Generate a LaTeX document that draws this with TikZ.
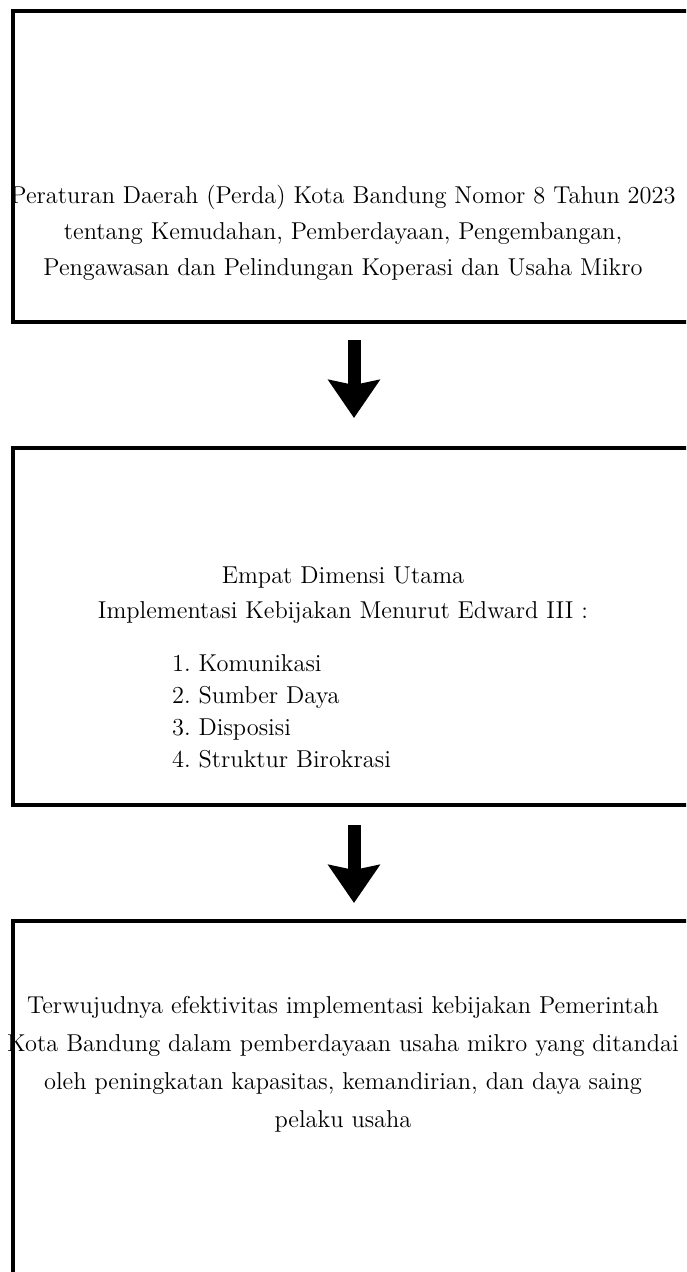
\documentclass[tikz,border=0pt]{standalone}
\usepackage{tikz}
\usepackage{amsmath}
\usetikzlibrary{arrows.meta}

\begin{document}
\begin{tikzpicture}[x=0.5pt,y=-0.5pt,
    kotak/.style={draw,line width=2pt,minimum width=341pt,inner sep=0pt},
    teks/.style={align=center,font=\fontsize{12.2}{18}\selectfont},
    panah/.style={line width=6.5pt,-{Stealth[length=19pt,width=25.5pt,inset=2.5pt]}}]
    %initialisation
    \clip (0,0) rectangle (686,1272);
    %definitions
    \node[kotak,minimum height=155.5pt] (perda) at (354,166.5) {};
    \node[kotak,minimum height=178.5pt] (dimensi) at (354,626.5) {};
    \node[kotak,minimum height=189.5pt] (hasil) at (354,1110.5) {};
    %label
    \node[teks] (tperda) at (343,233) {Peraturan Daerah (Perda) Kota Bandung Nomor 8 Tahun 2023\\
        tentang Kemudahan, Pemberdayaan, Pengembangan,\\
        Pengawasan dan Pelindungan Koperasi dan Usaha Mikro};
    \node[teks,font=\fontsize{12.2}{17.5}\selectfont] (tdimensi) at (343,595.5) {Empat Dimensi Utama\\
        Implementasi Kebijakan Menurut Edward III :};
    \node[teks,align=left,anchor=west,font=\fontsize{12.2}{16}\selectfont] (tdaftar) at (165,711) {1.\ Komunikasi\\
        2.\ Sumber Daya\\
        3.\ Disposisi\\
        4.\ Struktur Birokrasi};
    \node[teks,font=\fontsize{12.2}{19}\selectfont] (thasil) at (343,1064) {Terwujudnya efektivitas implementasi kebijakan Pemerintah\\
        Kota Bandung dalam pemberdayaan usaha mikro yang ditandai\\
        oleh peningkatan kapasitas, kemandirian, dan daya saing\\
        pelaku usaha};
    %drawing
    \draw[panah,shorten <=8pt,shorten >=14pt] (perda.south) -- (dimensi.north);
    \draw[panah,shorten <=9pt,shorten >=8pt] (dimensi.south) -- (hasil.north);
\end{tikzpicture}
\end{document}
